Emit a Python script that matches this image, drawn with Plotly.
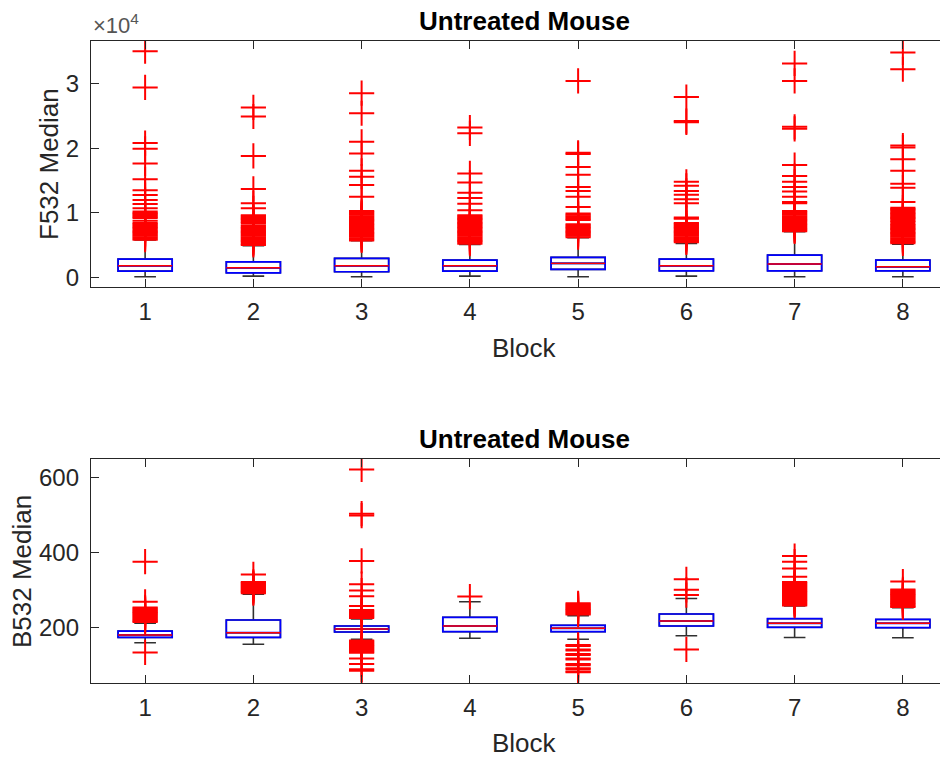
import plotly.graph_objects as go

# ---------------- data ----------------
blocks = [1, 2, 3, 4, 5, 6, 7, 8]
block_labels = ['1', '2', '3', '4', '5', '6', '7', '8']

# F532 Median (top panel)
f_q1 = [1005, 740, 900, 1005, 1270, 1050, 1050, 1050]
f_med = [1825, 1515, 1825, 1825, 2195, 1825, 2090, 1670]
f_q3 = [2860, 2440, 2970, 2710, 3120, 2860, 3480, 2710]
f_lo = [120, 230, 120, 230, 120, 230, 120, 120]
f_hi = [5800, 4920, 5690, 5130, 6160, 5290, 7090, 5180]
f_outliers = [
    [35000, 29400, 20800, 19900, 17650, 15200, 13500, 12750, 12000, 11360, 10700, 10200,
     10000, 9800, 9600, 9400, 9200, 8800, 8450, 8250, 8050, 7850, 7650, 7450, 7250, 7050,
     6850, 6650, 6450, 6250, 6050, 5850],
    [26300, 24900, 18800, 13700, 11500, 10700, 9650, 9450, 9250, 9050, 8850, 8650, 8450,
     8100, 7850, 7650, 7450, 7250, 7050, 6850, 6650, 6450, 6250, 6050, 5850, 5650, 5450,
     5250, 5050],
    [28500, 25400, 21000, 19200, 16500, 15600, 14300, 12500, 10300, 10100, 9900, 9700,
     9500, 9300, 9100, 8900, 8700, 8500, 8300, 8100, 7900, 7700, 7500, 7300, 7100, 6900,
     6700, 6500, 6300, 6100, 5900, 5750],
    [23200, 22300, 16100, 14700, 13100, 12300, 11400, 10400, 9650, 9450, 9250, 9050, 8850,
     8650, 8450, 8250, 8050, 7850, 7650, 7450, 7250, 7050, 6850, 6650, 6450, 6250, 6050,
     5850, 5650, 5450, 5250],
    [30400, 19300, 19100, 17100, 15900, 14000, 13400, 12500, 10900, 9900, 9700, 9500, 9300,
     9100, 8900, 8250, 8050, 7850, 7650, 7450, 7250, 7050, 6850, 6650, 6450, 6250],
    [27900, 24200, 24000, 14800, 14200, 13400, 12800, 12100, 11500, 9300, 9100, 8450, 8250,
     8050, 7850, 7650, 7450, 7250, 7050, 6850, 6650, 6450, 6250, 6050, 5850, 5650, 5450],
    [33100, 30400, 23300, 23000, 17400, 15700, 14800, 14000, 13300, 12500, 11700, 11500,
     10300, 10100, 9900, 9700, 9500, 9300, 9100, 8900, 8700, 8500, 8300, 8100, 7900, 7700,
     7500, 7300, 7150],
    [34800, 32200, 20400, 20100, 18300, 16500, 14500, 13900, 11700, 10800, 10600, 10400,
     10200, 10000, 9800, 9600, 9400, 9200, 9000, 8800, 8600, 8300, 8100, 7900, 7700, 7500,
     7300, 7100, 6900, 6700, 6500, 6300, 6100, 5900, 5700, 5500, 5300],
]
f_tickvals = [0, 10000, 20000, 30000]
f_ticktext = ['0', '1', '2', '3']

# B532 Median (bottom panel)
b_q1 = [173, 173, 187.5, 188.3, 188.3, 203.5, 200, 199]
b_med = [179.5, 185.6, 195.5, 203.5, 197.3, 216.8, 210.7, 210.7]
b_q3 = [190, 219.5, 203.5, 226.7, 205.3, 235.5, 223, 221]
b_lo = [159, 154.7, 168, 170.7, 168, 177.6, 173, 172]
b_hi = [210.7, 288, 222, 268, 231, 277, 256.8, 252]
b_outliers = [
    [375, 268, 253, 250, 247, 244, 241, 238, 235, 232, 229, 226, 223, 220, 217, 214, 133],
    [341, 321, 318, 315, 312, 309, 306, 303, 300, 297, 294, 291],
    [621, 503, 498, 377, 315, 298, 283, 257, 246, 243, 240, 237, 234, 231, 228, 225,
     165, 162, 159, 156, 153, 150, 147, 144, 141, 138, 135, 132, 117, 102, 88, 84],
    [282],
    [264, 261, 258, 255, 252, 249, 246, 243, 240, 237, 234,
     153, 150, 141, 138, 129, 126, 117, 114, 102, 99, 91, 88, 82, 80],
    [328, 300, 286, 141],
    [390, 375, 357, 335, 321, 318, 315, 312, 309, 306, 303, 300, 297, 294, 291, 288, 285,
     282, 279, 276, 273, 270, 267, 264, 261, 258],
    [322, 301, 298, 295, 292, 289, 286, 283, 280, 277, 274, 271, 268, 265, 262, 259, 256,
     254],
]
b_tickvals = [200, 400, 600]
b_ticktext = ['200', '400', '600']

title_text = 'Untreated Mouse'
x_title = 'Block'
f_ylabel = 'F532 Median'
b_ylabel = 'B532 Median'

# ---------------- figure ----------------
PAGE_W, PAGE_H = 948, 757
OFF = 8                      # default page body margin
W, H = PAGE_W - OFF, PAGE_H - OFF
FONT = 'Liberation Sans, Arial, sans-serif'
AX = '#262626'


def X(px):
    return (px - OFF) / W


def Y(py):
    return 1 - (py - OFF) / H


fig = go.Figure()


def add_panel(q1, med, q3, lo, hi, outliers, xa, ya):
    # whiskers + caps (black)
    fig.add_trace(go.Box(x=blocks, q1=q1, median=med, q3=q3, lowerfence=lo, upperfence=hi,
                         width=0.5, whiskerwidth=0.4, boxpoints=False,
                         line=dict(color='#303030', width=1.6), fillcolor='white',
                         hoverinfo='skip', showlegend=False, xaxis=xa, yaxis=ya))
    # blue box
    fig.add_trace(go.Box(x=blocks, q1=q1, median=med, q3=q3, lowerfence=q1, upperfence=q3,
                         width=0.5, whiskerwidth=0.4, boxpoints=False,
                         line=dict(color='#0000ff', width=1.7), fillcolor='rgba(0,0,0,0)',
                         hoverinfo='skip', showlegend=False, xaxis=xa, yaxis=ya))
    # red median line
    fig.add_trace(go.Box(x=blocks, q1=med, median=med, q3=med, lowerfence=med, upperfence=med,
                         width=0.5, whiskerwidth=0, boxpoints=False,
                         line=dict(color='#ff0000', width=1.4), fillcolor='rgba(0,0,0,0)',
                         hoverinfo='skip', showlegend=False, xaxis=xa, yaxis=ya))
    # outliers
    ox = [b for b, vals in zip(blocks, outliers) for _ in vals]
    oy = [v for vals in outliers for v in vals]
    fig.add_trace(go.Scatter(x=ox, y=oy, mode='markers',
                             marker=dict(symbol='cross-thin', size=18, color='#ff0000',
                                         line=dict(color='#ff0000', width=2)),
                             hoverinfo='skip', showlegend=False, xaxis=xa, yaxis=ya))


add_panel(f_q1, f_med, f_q3, f_lo, f_hi, f_outliers, 'x', 'y')
add_panel(b_q1, b_med, b_q3, b_lo, b_hi, b_outliers, 'x2', 'y2')

x_range = [0.5, 8.417]
top_dom = [Y(287.3), Y(41)]
bot_dom = [Y(683.3), Y(459)]

common_x = dict(range=x_range, tickvals=blocks, ticktext=block_labels, ticks='inside',
                ticklen=8, tickcolor=AX, tickwidth=1.3, showline=True, linecolor=AX,
                linewidth=1.3, mirror='ticks', showgrid=False, zeroline=False,
                tickfont=dict(family=FONT, size=24, color=AX), ticklabelstandoff=3,
                domain=[X(91), 1.0], fixedrange=True)
common_y = dict(ticks='inside', ticklen=8, tickcolor=AX, tickwidth=1.3, showline=True,
                linecolor=AX, linewidth=1.3, mirror=False, showgrid=False, zeroline=False,
                tickfont=dict(family=FONT, size=24, color=AX), ticklabelstandoff=6,
                fixedrange=True)

fig.update_layout(
    width=W, height=H,
    margin=dict(l=0, r=0, t=0, b=0, autoexpand=False),
    paper_bgcolor='white', plot_bgcolor='white',
    boxmode='overlay',
    xaxis=dict(**common_x, anchor='y'),
    yaxis=dict(**common_y, domain=top_dom, range=[-1500, 36570], tickvals=f_tickvals,
               ticktext=f_ticktext, anchor='x'),
    xaxis2=dict(**common_x, anchor='y2'),
    yaxis2=dict(**common_y, domain=bot_dom, range=[50.7, 648.8], tickvals=b_tickvals,
                ticktext=b_ticktext, anchor='x2'),
)

cx = X((91 + 957) / 2)
ann = [
    dict(text='<b>' + title_text + '</b>', x=cx, y=Y(21), font=dict(size=26, color='black')),
    dict(text='<b>' + title_text + '</b>', x=cx, y=Y(439), font=dict(size=26, color='black')),
    dict(text=x_title, x=cx, y=Y(348), font=dict(size=26, color=AX)),
    dict(text=x_title, x=cx, y=Y(743), font=dict(size=26, color=AX)),
    dict(text=f_ylabel, x=X(49), y=Y(164), textangle=-90, font=dict(size=26, color=AX)),
    dict(text=b_ylabel, x=X(22), y=Y(572), textangle=-90, font=dict(size=26, color=AX)),
    dict(text='\u00d710<sup>4</sup>', x=X(91), y=Y(24), xanchor='left',
         font=dict(size=22, color='#555555')),
]
for a in ann:
    a.setdefault('xanchor', 'center')
    a['yanchor'] = 'middle'
    a['xref'] = 'paper'
    a['yref'] = 'paper'
    a['showarrow'] = False
    a['font']['family'] = FONT
    fig.add_annotation(**a)

fig.write_html('out.html')
